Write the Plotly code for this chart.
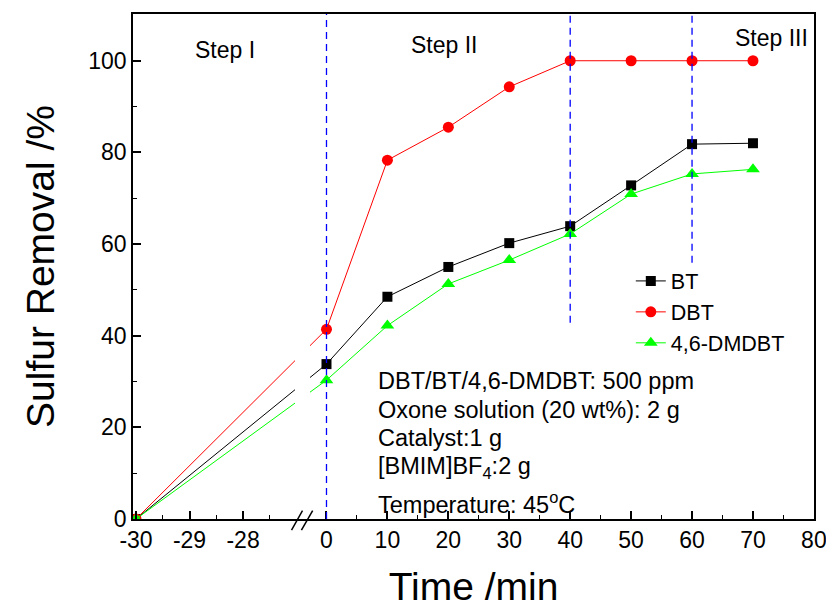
import plotly.graph_objects as go

# ---- data ----
time_min = [-30, 0, 10, 20, 30, 40, 50, 60, 70]
bt = [0, 33.8, 48.5, 55.0, 60.2, 63.9, 72.8, 81.8, 82.0]
dbt = [0, 41.4, 78.3, 85.5, 94.3, 100, 100, 100, 100]
dmdbt = [0, 30.3, 42.2, 51.3, 56.5, 62.2, 70.9, 75.3, 76.3]

x_major = [-30, -29, -28, 0, 10, 20, 30, 40, 50, 60, 70, 80]
x_minor = [-29.5, -28.5, -27.5, 5, 15, 25, 35, 45, 55, 65, 75]
step_bounds = [0, 40, 60]            # dashed separators (min)
step_bound_bottom = [0, 42.8, 55.9]  # lower end of each separator (%)

# ---- broken time axis: two linear segments sharing one plotting axis ----
RIGHT_ORIGIN = -26.442   # axis position of t = 0
RIGHT_SCALE = 0.1138     # axis units per minute on the right segment


def to_axis(t):
    return t if t < -20 else RIGHT_ORIGIN + t * RIGHT_SCALE


X_RANGE = [-30.056, to_axis(80) + 0.002]
Y_RANGE = [0, 110.2]
FONT = "Liberation Sans, Arial, sans-serif"

xs = [to_axis(t) for t in time_min]

fig = go.Figure()
fig.add_trace(go.Scatter(x=xs, y=bt, name="BT", mode="lines+markers",
                         line=dict(color="#000000", width=1),
                         marker=dict(symbol="square", size=10, color="#000000")))
fig.add_trace(go.Scatter(x=xs, y=dbt, name="DBT", mode="lines+markers",
                         line=dict(color="#FF0000", width=1),
                         marker=dict(symbol="circle", size=11, color="#FF0000")))
fig.add_trace(go.Scatter(x=xs, y=dmdbt, name="4,6-DMDBT", mode="lines+markers",
                         line=dict(color="#00FF00", width=1),
                         marker=dict(symbol="triangle-up", size=12, color="#00FF00")))

shapes = []
# gap in the curves where the axis is broken
shapes.append(dict(type="rect", xref="x", yref="y", x0=-27.03, x1=-26.75, y0=1, y1=60,
                   fillcolor="white", line=dict(width=0), layer="above"))
# break marks "//" on the time axis
for xa, xb in [(-27.095, -26.89), (-26.91, -26.70)]:
    shapes.append(dict(type="line", xref="x", yref="paper", x0=xa, x1=xb,
                       y0=-0.022, y1=0.0165, line=dict(color="black", width=1.5),
                       layer="above"))
# dashed step separators
for t, yb in zip(step_bounds, step_bound_bottom):
    shapes.append(dict(type="line", xref="x", yref="y", x0=to_axis(t), x1=to_axis(t),
                       y0=yb, y1=Y_RANGE[1], layer="above",
                       line=dict(color="#0000FF", width=1.3, dash="7px,5px")))

annotations = []
for txt, xp, yv in [("Step I", 0.135, 102.3), ("Step II", 0.457, 103.4),
                    ("Step III", 0.938, 105.0)]:
    annotations.append(dict(text=txt, xref="paper", yref="y", x=xp, y=yv,
                            xanchor="center", yanchor="middle", showarrow=False,
                            font=dict(size=23, color="black", family=FONT)))

conditions = [
    ("DBT/BT/4,6-DMDBT: 500 ppm", 30.1),
    ("Oxone solution (20 wt%): 2 g", 23.8),
    ("Catalyst:1 g", 17.7),
    ("[BMIM]BF<sub>4</sub>:2 g", 11.3),
    ("Temperature: 45<sup>o</sup>C", 3.5),
]
for txt, yv in conditions:
    annotations.append(dict(text=txt, xref="paper", yref="y", x=0.357, y=yv,
                            xanchor="left", yanchor="middle", showarrow=False,
                            font=dict(size=23.5, color="black", family=FONT)))

fig.update_layout(
    width=826, height=608,
    margin=dict(l=133, r=12, t=14, b=89),
    plot_bgcolor="white", paper_bgcolor="white",
    font=dict(family=FONT, color="black"),
    showlegend=True,
    legend=dict(x=0.731, y=0.512, xanchor="left", yanchor="top",
                font=dict(size=21.5, color="black", family=FONT),
                bgcolor="rgba(0,0,0,0)", tracegroupgap=0),
    shapes=shapes,
    annotations=annotations,
)

fig.update_xaxes(
    range=X_RANGE, showgrid=False, zeroline=False, automargin=False,
    showline=True, linecolor="black", linewidth=1.5, mirror=True,
    tickmode="array", tickvals=[to_axis(t) for t in x_major],
    ticktext=[str(t) for t in x_major], ticklabeloverflow="allow",
    ticks="inside", ticklen=8, tickwidth=1.5, tickcolor="black",
    tickfont=dict(size=23, color="black", family=FONT),
    minor=dict(tickmode="array", tickvals=[to_axis(t) for t in x_minor],
               ticks="inside", ticklen=4, tickwidth=1, tickcolor="black"),
    title=dict(text="Time /min", font=dict(size=39, color="black", family=FONT), standoff=21),
)
fig.update_yaxes(
    range=Y_RANGE, showgrid=False, zeroline=False, automargin=False,
    showline=True, linecolor="black", linewidth=1.5, mirror=True,
    tickmode="array", tickvals=[0, 20, 40, 60, 80, 100],
    ticks="inside", ticklen=8, tickwidth=1.5, tickcolor="black",
    tickfont=dict(size=23, color="black", family=FONT),
    minor=dict(tickmode="array", tickvals=[10, 30, 50, 70, 90, 110],
               ticks="inside", ticklen=4, tickwidth=1, tickcolor="black"),
    title=dict(text="Sulfur Removal /%", font=dict(size=39, color="black", family=FONT), standoff=22),
)

fig.write_html("out.html")
